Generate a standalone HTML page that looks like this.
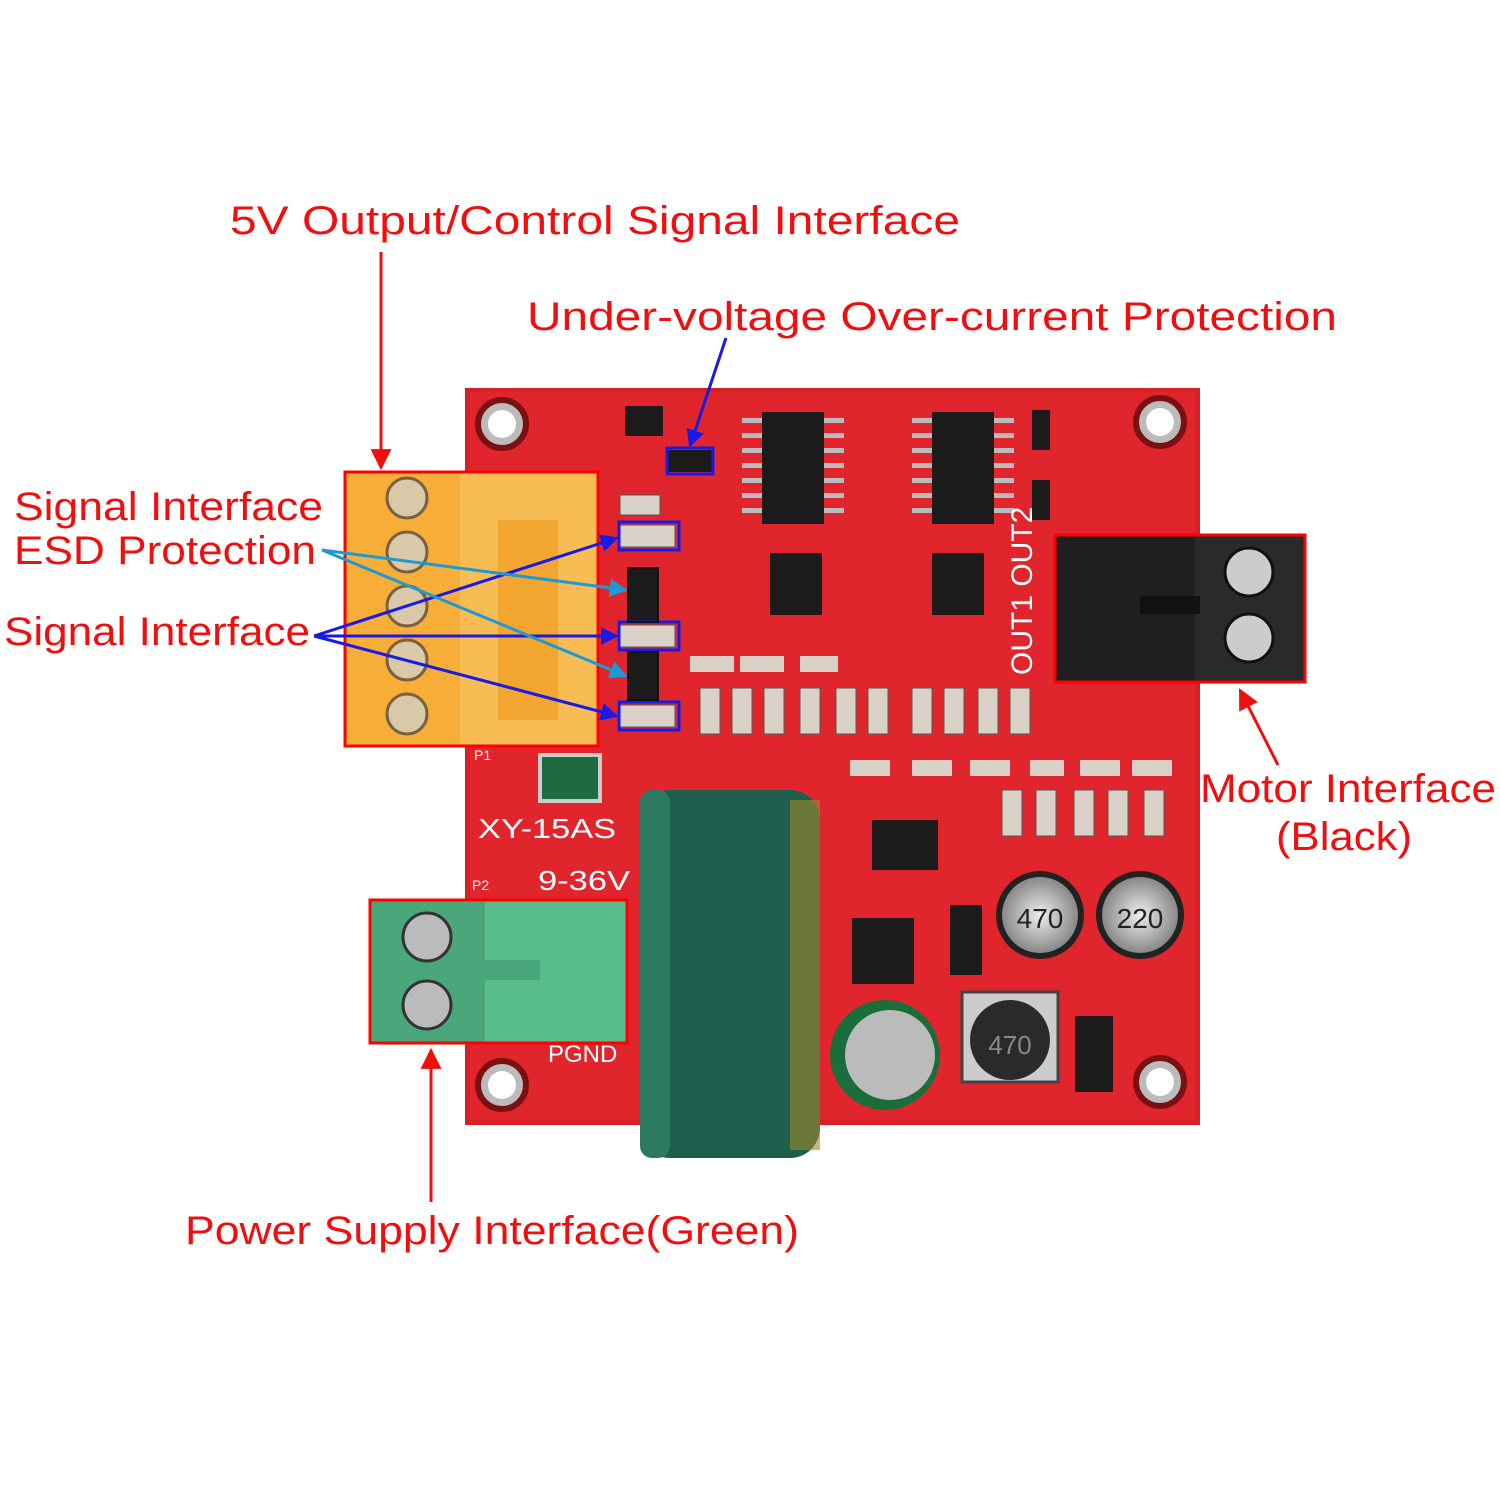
<!DOCTYPE html>
<html><head><meta charset="utf-8"><style>
html,body{margin:0;padding:0;background:#fff;}
svg{display:block}
text{font-family:"Liberation Sans",sans-serif;}
</style></head><body>
<svg width="1500" height="1500" viewBox="0 0 1500 1500" xmlns="http://www.w3.org/2000/svg">
<defs>
<marker id="ar" viewBox="0 0 10 10" refX="9" refY="5" markerWidth="7" markerHeight="7" orient="auto"><path d="M0,0 L10,5 L0,10 z" fill="#f00f0f"/></marker>
<marker id="ab" viewBox="0 0 10 10" refX="9" refY="5" markerWidth="6" markerHeight="6" orient="auto"><path d="M0,0 L10,5 L0,10 z" fill="#1a1ae6"/></marker>
<marker id="ac" viewBox="0 0 10 10" refX="9" refY="5" markerWidth="6" markerHeight="6" orient="auto"><path d="M0,0 L10,5 L0,10 z" fill="#1d9ad6"/></marker>
<radialGradient id="cap2" cx="0.5" cy="0.5" r="0.5"><stop offset="0" stop-color="#eee"/><stop offset="1" stop-color="#888"/></radialGradient>
</defs>
<rect width="1500" height="1500" fill="#fff"/>
<!-- PCB -->
<rect x="465" y="388" width="735" height="737" fill="#d91f26"/>
<rect x="470" y="392" width="725" height="728" fill="#e0262c"/>
<g fill="#bbb" stroke="#7a1010" stroke-width="6">
<circle cx="502" cy="424" r="24"/><circle cx="1160" cy="422" r="24"/><circle cx="502" cy="1085" r="24"/><circle cx="1160" cy="1082" r="24"/>
</g>
<g fill="#fff"><circle cx="502" cy="424" r="14"/><circle cx="1160" cy="422" r="14"/><circle cx="502" cy="1085" r="14"/><circle cx="1160" cy="1082" r="14"/></g>
<!-- ICs -->
<g fill="#1b1b1b">
<rect x="762" y="412" width="62" height="112"/><rect x="932" y="412" width="62" height="112"/>
<rect x="770" y="553" width="52" height="62"/><rect x="932" y="553" width="52" height="62"/>
<rect x="872" y="820" width="66" height="50"/><rect x="852" y="918" width="62" height="66"/>
<rect x="668" y="450" width="44" height="22"/><rect x="625" y="406" width="38" height="30"/>
<rect x="628" y="568" width="30" height="54"/><rect x="628" y="652" width="30" height="48"/>
<rect x="950" y="905" width="32" height="70"/><rect x="1075" y="1016" width="38" height="76"/>
<rect x="1032" y="410" width="18" height="40"/><rect x="1032" y="480" width="18" height="40"/>
</g>
<g fill="#bbb">
<rect x="742" y="418" width="20" height="5"/><rect x="742" y="433" width="20" height="5"/><rect x="742" y="448" width="20" height="5"/><rect x="742" y="463" width="20" height="5"/><rect x="742" y="478" width="20" height="5"/><rect x="742" y="493" width="20" height="5"/><rect x="742" y="508" width="20" height="5"/>
<rect x="824" y="418" width="20" height="5"/><rect x="824" y="433" width="20" height="5"/><rect x="824" y="448" width="20" height="5"/><rect x="824" y="463" width="20" height="5"/><rect x="824" y="478" width="20" height="5"/><rect x="824" y="493" width="20" height="5"/><rect x="824" y="508" width="20" height="5"/>
<rect x="912" y="418" width="20" height="5"/><rect x="912" y="433" width="20" height="5"/><rect x="912" y="448" width="20" height="5"/><rect x="912" y="463" width="20" height="5"/><rect x="912" y="478" width="20" height="5"/><rect x="912" y="493" width="20" height="5"/><rect x="912" y="508" width="20" height="5"/>
<rect x="994" y="418" width="20" height="5"/><rect x="994" y="433" width="20" height="5"/><rect x="994" y="448" width="20" height="5"/><rect x="994" y="463" width="20" height="5"/><rect x="994" y="478" width="20" height="5"/><rect x="994" y="493" width="20" height="5"/><rect x="994" y="508" width="20" height="5"/>
</g>
<!-- diodes row -->
<g fill="#d9d0c8" stroke="#555" stroke-width="1">
<rect x="700" y="688" width="20" height="46"/><rect x="732" y="688" width="20" height="46"/><rect x="764" y="688" width="20" height="46"/><rect x="800" y="688" width="20" height="46"/><rect x="836" y="688" width="20" height="46"/><rect x="868" y="688" width="20" height="46"/>
<rect x="912" y="688" width="20" height="46"/><rect x="944" y="688" width="20" height="46"/><rect x="978" y="688" width="20" height="46"/><rect x="1010" y="688" width="20" height="46"/>
<rect x="1002" y="790" width="20" height="46"/><rect x="1036" y="790" width="20" height="46"/><rect x="1074" y="790" width="20" height="46"/><rect x="1108" y="790" width="20" height="46"/><rect x="1144" y="790" width="20" height="46"/>
<rect x="620" y="495" width="40" height="20"/><rect x="620" y="525" width="55" height="22"/><rect x="620" y="625" width="55" height="22"/><rect x="620" y="705" width="55" height="22"/>
</g>
<g fill="#d9d0c8"><rect x="690" y="656" width="44" height="16"/><rect x="740" y="656" width="44" height="16"/><rect x="800" y="656" width="38" height="16"/><rect x="850" y="760" width="40" height="16"/><rect x="912" y="760" width="40" height="16"/><rect x="970" y="760" width="40" height="16"/><rect x="1030" y="760" width="34" height="16"/><rect x="1080" y="760" width="40" height="16"/><rect x="1132" y="760" width="40" height="16"/></g>
<!-- electrolytic caps -->
<circle cx="1040" cy="915" r="44" fill="#222"/><circle cx="1040" cy="915" r="38" fill="url(#cap2)"/>
<circle cx="1140" cy="915" r="44" fill="#222"/><circle cx="1140" cy="915" r="38" fill="url(#cap2)"/>
<text x="1040" y="928" font-size="28" text-anchor="middle" fill="#222">470</text>
<text x="1140" y="928" font-size="28" text-anchor="middle" fill="#222">220</text>
<!-- inductor -->
<rect x="962" y="992" width="96" height="90" fill="#ccc" stroke="#444" stroke-width="3"/>
<circle cx="1010" cy="1040" r="40" fill="#2a2a2a"/><text x="1010" y="1054" font-size="26" text-anchor="middle" fill="#888">470</text>
<!-- small green cap -->
<circle cx="885" cy="1055" r="55" fill="#1a6e3a"/><circle cx="890" cy="1055" r="45" fill="#bbb"/>
<!-- fuse -->
<rect x="540" y="755" width="60" height="46" fill="#1d6b3e" stroke="#ccc" stroke-width="4"/>
<!-- PCB text -->
<g fill="#fff" font-size="28">
<text x="478" y="838" textLength="138" lengthAdjust="spacingAndGlyphs">XY-15AS</text><text x="538" y="890" textLength="92" lengthAdjust="spacingAndGlyphs">9-36V</text><text x="548" y="1062" font-size="24">PGND</text>
<text x="474" y="760" font-size="14">P1</text><text x="472" y="890" font-size="14">P2</text>
<text transform="translate(1032,675) rotate(-90)" font-size="30">OUT1 OUT2</text>
</g>
<!-- big capacitor -->
<rect x="640" y="790" width="180" height="368" rx="30" fill="#1e5e4c"/>
<rect x="640" y="790" width="30" height="368" rx="12" fill="#2d7a63"/>
<rect x="790" y="800" width="30" height="350" fill="#a08a2a" opacity="0.6"/>
<!-- orange terminal -->
<rect x="345" y="472" width="253" height="274" fill="#f6ae39"/>
<rect x="460" y="472" width="138" height="274" fill="#f8bc55"/>
<rect x="498" y="520" width="60" height="200" fill="#f2a630"/>
<g fill="#d9c9a8" stroke="#7a6040" stroke-width="3">
<circle cx="407" cy="498" r="20"/><circle cx="407" cy="552" r="20"/><circle cx="407" cy="606" r="20"/><circle cx="407" cy="660" r="20"/><circle cx="407" cy="714" r="20"/>
</g>
<rect x="345" y="472" width="253" height="274" fill="none" stroke="#f00" stroke-width="3"/>
<!-- green terminal -->
<rect x="370" y="900" width="257" height="143" fill="#58bd8b"/>
<rect x="370" y="900" width="115" height="143" fill="#4aa67b"/>
<g fill="#bbb" stroke="#333" stroke-width="3"><circle cx="427" cy="937" r="24"/><circle cx="427" cy="1005" r="24"/></g>
<rect x="485" y="960" width="55" height="20" fill="#4aa67b"/>
<rect x="370" y="900" width="257" height="143" fill="none" stroke="#f00" stroke-width="3"/>
<!-- black terminal -->
<rect x="1055" y="535" width="250" height="147" fill="#1f1f1f"/>
<rect x="1195" y="535" width="110" height="147" fill="#2a2a2a"/>
<rect x="1140" y="596" width="60" height="18" fill="#111"/>
<g fill="#ccc" stroke="#111" stroke-width="3"><circle cx="1249" cy="572" r="24"/><circle cx="1249" cy="638" r="24"/></g>
<rect x="1055" y="535" width="250" height="147" fill="none" stroke="#f00" stroke-width="3"/>
<!-- blue boxes -->
<g fill="none" stroke="#1a1ae6" stroke-width="3">
<rect x="667" y="448" width="46" height="26"/><rect x="619" y="522" width="60" height="28"/><rect x="619" y="622" width="60" height="28"/><rect x="619" y="702" width="60" height="28"/>
</g>
<g fill="none" stroke="#111" stroke-width="2"><rect x="628" y="568" width="30" height="54"/><rect x="628" y="652" width="30" height="48"/></g>
<!-- labels -->
<g fill="#f00f0f" font-size="40" lengthAdjust="spacingAndGlyphs">
<text x="230" y="234" textLength="730" lengthAdjust="spacingAndGlyphs">5V Output/Control Signal Interface</text>
<text x="527" y="330" textLength="810" lengthAdjust="spacingAndGlyphs">Under-voltage Over-current Protection</text>
<text x="14" y="520" textLength="309" lengthAdjust="spacingAndGlyphs">Signal Interface</text>
<text x="14" y="564" textLength="302" lengthAdjust="spacingAndGlyphs">ESD Protection</text>
<text x="4" y="645" textLength="306" lengthAdjust="spacingAndGlyphs">Signal Interface</text>
<text x="1200" y="802" textLength="296" lengthAdjust="spacingAndGlyphs">Motor Interface</text>
<text x="1276" y="850" textLength="136" lengthAdjust="spacingAndGlyphs">(Black)</text>
<text x="185" y="1244" textLength="614" lengthAdjust="spacingAndGlyphs">Power Supply Interface(Green)</text>
</g>
<!-- arrows -->
<g stroke="#f00f0f" stroke-width="3" fill="none">
<line x1="381" y1="252" x2="381" y2="468" marker-end="url(#ar)"/>
<line x1="431" y1="1202" x2="431" y2="1050" marker-end="url(#ar)"/>
<line x1="1278" y1="765" x2="1240" y2="690" marker-end="url(#ar)"/>
</g>
<g stroke="#1a1ae6" stroke-width="3" fill="none">
<line x1="726" y1="338" x2="690" y2="446" marker-end="url(#ab)"/>
<line x1="314" y1="636" x2="617" y2="538" marker-end="url(#ab)"/>
<line x1="314" y1="636" x2="617" y2="636" marker-end="url(#ab)"/>
<line x1="314" y1="636" x2="617" y2="716" marker-end="url(#ab)"/>
</g>
<g stroke="#1d9ad6" stroke-width="3" fill="none">
<line x1="322" y1="550" x2="626" y2="590" marker-end="url(#ac)"/>
<line x1="322" y1="550" x2="626" y2="676" marker-end="url(#ac)"/>
</g>
</svg>
</body></html>
